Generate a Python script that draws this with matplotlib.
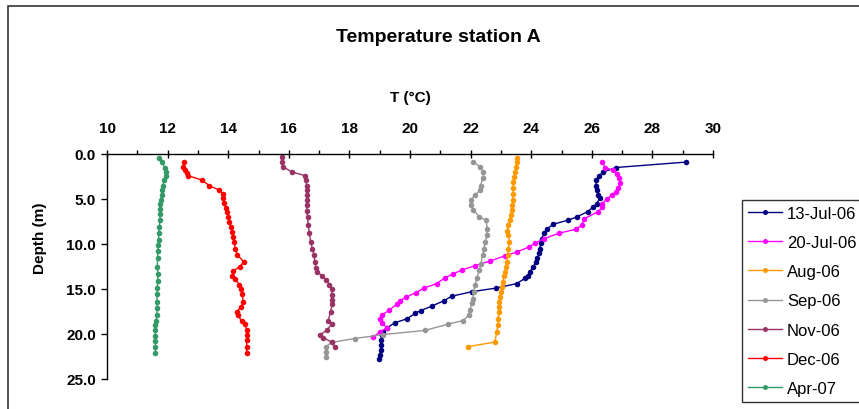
import matplotlib.pyplot as plt
from matplotlib.patches import Rectangle
from matplotlib.ticker import MultipleLocator, FormatStrFormatter

plt.rcParams['font.family'] = ['Liberation Sans', 'DejaVu Sans']

# Temperature profiles, station A (depth in m, T in degC)
jul13_depth = [0.9, 1.5, 2.0, 2.4, 2.9, 3.5, 4.0, 4.6, 4.9, 5.5, 5.9, 6.4, 7.0, 7.35, 7.8, 8.35,
               8.8, 9.4, 9.9, 10.5, 11.05, 11.6, 12.05, 12.5, 13.1, 13.5, 13.8, 14.4, 14.9, 15.3,
               15.8, 16.3, 16.9, 17.4, 17.7, 18.3, 18.75, 19.3, 19.75, 20.1, 20.7, 21.2, 21.8,
               22.35, 22.8]
jul13_temp = [29.11, 26.8, 26.38, 26.25, 26.14, 26.14, 26.16, 26.21, 26.27, 26.16, 26.05, 25.86,
              25.5, 25.22, 24.73, 24.51, 24.42, 24.35, 24.31, 24.29, 24.26, 24.2, 24.16, 24.07,
              23.96, 23.9, 23.8, 23.52, 22.84, 22.04, 21.38, 21.12, 20.72, 20.35, 20.17, 19.91,
              19.5, 19.25, 19.12, 19.07, 19.04, 19.04, 19.03, 19.0, 18.98]

jul20_depth = [0.9, 1.5, 1.8, 2.2, 2.65, 3.2, 3.8, 4.2, 4.6, 5.0, 5.5, 5.9, 6.4, 7.2, 7.9, 8.35,
               8.8, 9.4, 9.9, 10.3, 10.9, 11.3, 11.9, 12.4, 12.9, 13.3, 13.75, 14.4, 14.9, 15.4,
               15.9, 16.3, 16.7, 17.35, 17.9, 18.3, 18.75, 19.3, 19.8, 20.35]
jul20_temp = [26.35, 26.44, 26.69, 26.82, 26.91, 26.93, 26.88, 26.79, 26.66, 26.49, 26.35, 26.33,
              26.22, 25.74, 25.67, 25.48, 24.92, 24.43, 24.13, 23.94, 23.52, 23.14, 22.64, 22.15,
              21.71, 21.43, 21.16, 20.88, 20.46, 20.2, 19.87, 19.67, 19.56, 19.32, 19.07, 19.0,
              19.07, 19.23, 19.0, 18.77]

aug_depth = [0.4, 0.9, 1.4, 2.0, 2.5, 3.1, 3.8, 4.4, 5.1, 5.7, 6.2, 6.8, 7.35, 7.9, 8.5, 9.0,
             9.8, 10.5, 11.2, 12.0, 12.5, 13.1, 13.6, 14.2, 14.8, 15.3, 15.9, 16.4, 17.0, 17.5,
             18.3, 19.0, 19.8, 20.9, 21.4]
aug_temp = [23.52, 23.52, 23.5, 23.47, 23.43, 23.41, 23.41, 23.39, 23.39, 23.38, 23.36, 23.32,
            23.3, 23.25, 23.21, 23.25, 23.28, 23.25, 23.22, 23.19, 23.17, 23.14, 23.1, 23.06,
            23.03, 22.99, 22.97, 22.95, 22.94, 22.93, 22.91, 22.9, 22.86, 22.8, 21.92]

sep_depth = [0.9, 1.4, 2.0, 2.7, 3.5, 4.0, 4.6, 5.1, 5.7, 6.2, 7.0, 7.35, 8.3, 9.0, 9.8, 10.5,
             11.2, 12.2, 12.9, 13.8, 14.6, 15.3, 16.1, 16.6, 17.35, 17.9, 18.5, 18.9, 19.6,
             20.06, 20.5, 20.94, 21.4, 22.0, 22.5]
sep_temp = [22.09, 22.31, 22.42, 22.4, 22.33, 22.31, 22.15, 22.0, 22.0, 22.09, 22.29, 22.51,
            22.55, 22.53, 22.49, 22.44, 22.4, 22.34, 22.29, 22.2, 22.15, 22.1, 22.07, 22.03,
            21.98, 21.94, 21.76, 21.26, 20.5, 19.12, 18.18, 17.41, 17.23, 17.23, 17.23]

nov_depth = [0.3, 0.9, 1.4, 2.0, 2.4, 2.9, 3.5, 4.0, 4.6, 5.1, 5.7, 6.3, 7.0, 7.9, 8.8, 9.8,
             10.5, 11.2, 12.0, 12.7, 13.1, 13.5, 14.0, 14.5, 15.0, 15.7, 16.2, 16.7, 17.5, 18.5,
             18.9, 19.6, 20.1, 20.4, 20.9, 21.4]
nov_temp = [15.76, 15.78, 15.8, 16.1, 16.53, 16.57, 16.59, 16.59, 16.59, 16.59, 16.59, 16.6,
            16.62, 16.64, 16.68, 16.72, 16.78, 16.83, 16.86, 16.9, 16.94, 17.09, 17.23, 17.34,
            17.41, 17.43, 17.41, 17.43, 17.38, 17.3, 17.41, 17.25, 17.03, 17.14, 17.41, 17.52]

dec_depth = [0.9, 1.4, 1.8, 2.1, 2.4, 2.9, 3.5, 4.0, 4.4, 4.9, 5.4, 6.0, 6.4, 7.0, 7.5, 8.1,
             8.65, 9.2, 9.8, 10.5, 11.2, 12.0, 12.5, 13.0, 13.5, 13.9, 14.5, 15.0, 15.6, 16.4,
             17.0, 17.5, 17.9, 18.5, 18.9, 19.6, 20.1, 20.7, 21.4, 22.1]
dec_temp = [12.54, 12.52, 12.58, 12.63, 12.67, 13.14, 13.37, 13.69, 13.82, 13.84, 13.87, 13.92,
            13.97, 14.0, 14.04, 14.08, 14.13, 14.16, 14.19, 14.24, 14.3, 14.52, 14.38, 14.17,
            14.14, 14.22, 14.37, 14.42, 14.46, 14.5, 14.42, 14.29, 14.31, 14.44, 14.55, 14.61,
            14.61, 14.61, 14.61, 14.61]

apr_depth = [0.4, 0.9, 1.5, 2.0, 2.4, 2.9, 3.5, 4.0, 4.6, 5.1, 5.6, 6.1, 6.7, 7.3, 8.1, 8.8,
             9.5, 10.1, 10.8, 11.6, 12.5, 13.3, 14.1, 14.9, 15.6, 16.4, 17.1, 17.9, 18.5, 19.0,
             19.6, 20.2, 20.8, 21.4, 22.1]
apr_temp = [11.72, 11.8, 11.91, 11.95, 11.94, 11.89, 11.84, 11.83, 11.8, 11.78, 11.76, 11.75,
            11.75, 11.75, 11.73, 11.71, 11.7, 11.69, 11.68, 11.67, 11.66, 11.68, 11.67, 11.66,
            11.65, 11.65, 11.65, 11.65, 11.62, 11.6, 11.6, 11.6, 11.6, 11.6, 11.6]

labels = ['13-Jul-06', '20-Jul-06', 'Aug-06', 'Sep-06', 'Nov-06', 'Dec-06', 'Apr-07']
colors = ['#000080', '#FF00FF', '#FF9900', '#969696', '#993366', '#FF0000', '#339966']
temps = [jul13_temp, jul20_temp, aug_temp, sep_temp, nov_temp, dec_temp, apr_temp]
depths = [jul13_depth, jul20_depth, aug_depth, sep_depth, nov_depth, dec_depth, apr_depth]

W, H = 859, 410
fig = plt.figure(figsize=(W / 100, H / 100), dpi=100)
ax = fig.add_axes([107 / W, (H - 380) / H, (713 - 107) / W, (380 - 155) / H])

for t, d, c, lab in zip(temps, depths, colors, labels):
    ax.plot(t, d, color=c, lw=1.0, marker='o', markersize=4, markeredgewidth=0,
            label=lab, clip_on=False)

ax.set_xlim(10, 30)
ax.set_ylim(25, 0)
ax.xaxis.set_major_locator(MultipleLocator(2))
ax.xaxis.set_minor_locator(MultipleLocator(1))
ax.yaxis.set_major_locator(MultipleLocator(5))
ax.yaxis.set_major_formatter(FormatStrFormatter('%.1f'))

ax.xaxis.tick_top()
ax.xaxis.set_label_position('top')
ax.spines['right'].set_visible(False)
ax.spines['bottom'].set_visible(False)
for s in ('top', 'left'):
    ax.spines[s].set_linewidth(1.0)
    ax.spines[s].set_color('black')

ax.tick_params(axis='x', which='major', direction='inout', length=6, width=1,
               labelsize=11, pad=11)
ax.tick_params(axis='x', which='minor', direction='out', length=3, width=1)
ax.tick_params(axis='y', which='major', direction='out', length=4, width=1,
               labelsize=11, pad=4)
for lbl in ax.get_xticklabels() + ax.get_yticklabels():
    lbl.set_fontweight('bold')

ax.set_xlabel('T (°C)', fontsize=11, fontweight='bold', labelpad=14)

fig.text(40 / W, 1 - 238 / H, 'Depth (m)', rotation=90, ha='center', va='center',
         fontsize=11, fontweight='bold')
fig.text(438 / W, 1 - 38 / H, 'Temperature station A', ha='center', va='center',
         fontsize=14, fontweight='bold')

# outer chart border (cut off by the image on the right and bottom)
fig.patches.append(Rectangle((8 / W, -0.1), 1.2, 1 - 7 / H + 0.1, transform=fig.transFigure,
                             fill=False, edgecolor='#333333', linewidth=1.2))

leg = fig.legend(loc='upper left', bbox_to_anchor=(742 / W, 1 - 201 / H),
                 borderaxespad=0, fontsize=12, frameon=True, fancybox=False,
                 edgecolor='black', handlelength=2.05, handletextpad=0.3,
                 labelspacing=0.85, borderpad=0.35, markerscale=0.9)
leg.get_frame().set_linewidth(1.0)

fig.savefig('out.png', dpi=100)
